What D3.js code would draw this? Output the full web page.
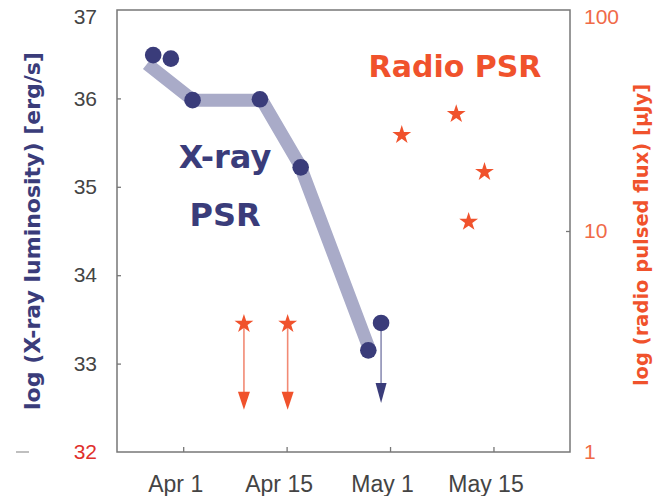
<!DOCTYPE html>
<html>
<head>
<meta charset="utf-8">
<script src="https://cdn.jsdelivr.net/npm/d3@7"></script>
<style>
  html, body { margin: 0; padding: 0; background: #fff; }
  svg { display: block; }
</style>
</head>
<body>
<script>
// Days counted from Apr 1; tick positions and their labels
const tickDays = [0, 15, 30, 45];
const tickLabels = ["Apr 1", "Apr 15", "May 1", "May 15"];

// Left axis: log X-ray luminosity
const lumTicks = [32, 33, 34, 35, 36, 37];
// Right axis: radio pulsed flux (µJy)
const fluxTicks = [1, 10, 100];

// X-ray detections
const xrayDays = [-4.35, -1.79, 1.36, 11.13, 17.04, 26.85];
const xrayLum  = [36.49, 36.45, 35.98, 35.99, 35.22, 33.15];
// X-ray upper limit
const xrayLimitDays = [28.7];
const xrayLimitLum  = [33.46];

// Smoothed X-ray trend band
const trendDays = [-5.25, 1.41, 11.42, 16.95, 26.97];
const trendLum  = [36.39, 35.98, 35.98, 35.24, 33.17];

// Radio detections
const radioDays = [31.7, 39.6, 43.7, 41.4];
const radioFlux = [27.2, 33.8, 18.5, 11.0];
// Radio upper limits
const radioLimitDays = [8.81, 15.15];
const radioLimitFlux = [3.8, 3.8];

const W = 662, H = 496;
const frame = { left: 117, right: 570, top: 10, bottom: 452 };

const navy = "#3a3c7a";
const band = "#a9abc8";
const orange = "#f0522c";
const grey = "#444";

const svg = d3.select("body").append("svg").attr("width", W).attr("height", H);

const x = d3.scaleLinear().domain([-9.6, 56.1]).range([frame.left, frame.right]);
const yL = d3.scaleLinear().domain([32, 37]).range([frame.bottom, frame.top]);
const yR = d3.scaleLog().domain([1, 100]).range([frame.bottom, frame.top]);

// Frame
svg.append("rect")
  .attr("x", frame.left).attr("y", frame.top)
  .attr("width", frame.right - frame.left).attr("height", frame.bottom - frame.top)
  .attr("fill", "none").attr("stroke", "#777").attr("stroke-width", 1.5);

// Bottom axis (inward ticks)
const xAxis = d3.axisBottom(x).tickValues(tickDays)
  .tickFormat((d, i) => tickLabels[i]).tickSizeInner(-5).tickSizeOuter(0).tickPadding(24);
const gx = svg.append("g").attr("transform", `translate(0,${frame.bottom})`).call(xAxis);
gx.select(".domain").remove();
gx.selectAll(".tick line").attr("stroke", "#777").attr("stroke-width", 1.3);
gx.selectAll(".tick text").attr("fill", grey).attr("dx", -8)
  .style("font-family", "'Liberation Sans', Arial, sans-serif").style("font-size", "23px");

// Left axis
const yAxisL = d3.axisLeft(yL).tickValues(lumTicks).tickFormat(d3.format("d"))
  .tickSizeInner(-4).tickSizeOuter(0).tickPadding(20);
const gl = svg.append("g").attr("transform", `translate(${frame.left},0)`).call(yAxisL);
gl.select(".domain").remove();
gl.selectAll(".tick line").attr("stroke", "#777").attr("stroke-width", 1.3)
  .attr("opacity", d => (d === 32 || d === 37) ? 0 : 1);
gl.selectAll(".tick text")
  .attr("fill", d => d === 32 ? "#e0302c" : grey)
  .attr("dy", d => d === 37 ? "0.62em" : "0.32em")
  .style("font-family", "'Liberation Sans', Arial, sans-serif").style("font-size", "21px");

// small dash beside the lowest left label
svg.append("line")
  .attr("x1", 16).attr("x2", 29).attr("y1", yL(32)).attr("y2", yL(32))
  .attr("stroke", "#aaa").attr("stroke-width", 1.5);

// Right axis
const yAxisR = d3.axisRight(yR).tickValues(fluxTicks).tickFormat(d3.format("d"))
  .tickSizeInner(-4).tickSizeOuter(0).tickPadding(14);
const gr = svg.append("g").attr("transform", `translate(${frame.right},0)`).call(yAxisR);
gr.select(".domain").remove();
gr.selectAll(".tick line").attr("stroke", "#777").attr("stroke-width", 1.3)
  .attr("opacity", d => (d === 1 || d === 100) ? 0 : 1);
gr.selectAll(".tick text")
  .attr("fill", "#f06a48")
  .attr("dy", d => d === 100 ? "0.62em" : "0.32em")
  .style("font-family", "'Liberation Sans', Arial, sans-serif").style("font-size", "21px");

// Axis titles
svg.append("text")
  .attr("transform", `translate(40,${(frame.top + frame.bottom) / 2}) rotate(-90)`)
  .attr("text-anchor", "middle")
  .attr("fill", navy)
  .style("font-family", "'DejaVu Sans', sans-serif").style("font-weight", "bold").style("font-size", "22px")
  .text("log (X-ray luminosity) [erg/s]");

svg.append("text")
  .attr("transform", `translate(648,235) rotate(-90)`)
  .attr("text-anchor", "middle")
  .attr("fill", orange)
  .style("font-family", "'DejaVu Sans', sans-serif").style("font-weight", "bold").style("font-size", "19.5px")
  .text("log (radio pulsed flux) [µJy]");

// Star symbol
const star = d3.symbol().type(d3.symbolStar).size(110);

// Trend band
const trend = trendDays.map((d, i) => [x(d), yL(trendLum[i])]);
svg.append("path")
  .attr("d", d3.line()(trend))
  .attr("fill", "none").attr("stroke", band).attr("stroke-width", 13)
  .attr("stroke-linejoin", "round").attr("stroke-linecap", "butt");

// Radio upper limits: star with arrow down
const radioLimits = svg.append("g");
radioLimitDays.forEach((d, i) => {
  const cx = x(d), cy = yR(radioLimitFlux[i]);
  radioLimits.append("line")
    .attr("x1", cx).attr("x2", cx).attr("y1", cy).attr("y2", cy + 72)
    .attr("stroke", "#f28a74").attr("stroke-width", 1.6);
  radioLimits.append("path")
    .attr("d", `M${cx - 6},${cy + 68} L${cx + 6},${cy + 68} L${cx},${cy + 86} Z`)
    .attr("fill", orange);
  radioLimits.append("path")
    .attr("transform", `translate(${cx},${cy})`)
    .attr("d", star()).attr("fill", orange);
});

// Radio detections
svg.append("g").selectAll("path")
  .data(radioDays.map((d, i) => [d, radioFlux[i]]))
  .join("path")
  .attr("transform", d => `translate(${x(d[0])},${yR(d[1])})`)
  .attr("d", star()).attr("fill", orange);

// X-ray upper limit: arrow down
xrayLimitDays.forEach((d, i) => {
  const cx = x(d), cy = yL(xrayLimitLum[i]);
  svg.append("line")
    .attr("x1", cx).attr("x2", cx).attr("y1", cy).attr("y2", cy + 64)
    .attr("stroke", "#8c8eb4").attr("stroke-width", 1.6);
  svg.append("path")
    .attr("d", `M${cx - 5.5},${cy + 60} L${cx + 5.5},${cy + 60} L${cx},${cy + 80} Z`)
    .attr("fill", navy);
});

// X-ray points
svg.append("g").selectAll("circle")
  .data(xrayDays.map((d, i) => [d, xrayLum[i]]).concat(
        xrayLimitDays.map((d, i) => [d, xrayLimitLum[i]])))
  .join("circle")
  .attr("cx", d => x(d[0])).attr("cy", d => yL(d[1]))
  .attr("r", 8.3).attr("fill", navy);

// In-plot labels
svg.append("text")
  .attr("x", 455).attr("y", 77).attr("text-anchor", "middle")
  .attr("fill", orange)
  .style("font-family", "'DejaVu Sans', sans-serif").style("font-weight", "bold").style("font-size", "30px")
  .text("Radio PSR");

const xl = svg.append("text")
  .attr("text-anchor", "middle").attr("fill", navy)
  .style("font-family", "'DejaVu Sans', sans-serif").style("font-weight", "bold").style("font-size", "32px");
xl.append("tspan").attr("x", 225).attr("y", 168).text("X-ray");
xl.append("tspan").attr("x", 225).attr("y", 226).text("PSR");
</script>
</body>
</html>
